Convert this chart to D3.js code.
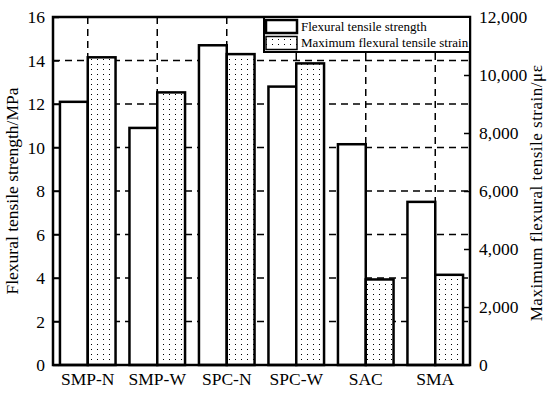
<!DOCTYPE html>
<html>
<head>
<meta charset="utf-8">
<script src="https://cdn.jsdelivr.net/npm/d3@7"></script>
<style>
    body { margin: 0; background: #fff; }
    svg text { font-family: "Liberation Serif", serif; fill: #000; }
</style>
</head>
<body>
<svg id="chart" width="550" height="396"></svg>
<script>
const categories = ['SMP-N', 'SMP-W', 'SPC-N', 'SPC-W', 'SAC', 'SMA'];
const strengthValues = [12.1, 10.9, 14.7, 12.8, 10.15, 7.5];
const strainValues = [10610, 9400, 10720, 10400, 2950, 3110];
const leftTicks = [0, 2, 4, 6, 8, 10, 12, 14, 16];
const rightTicks = [0, 2000, 4000, 6000, 8000, 10000, 12000];
const legendLabels = ['Flexural tensile strength', 'Maximum flexural tensile strain'];

const margin = { top: 17, right: 80, bottom: 31, left: 53 };
const width = 550 - margin.left - margin.right;
const height = 396 - margin.top - margin.bottom;

const svg = d3.select('#chart');

const defs = svg.append('defs');
const dots = defs.append('pattern')
    .attr('id', 'dots')
    .attr('patternUnits', 'userSpaceOnUse')
    .attr('width', 6)
    .attr('height', 5);
dots.append('rect').attr('width', 6).attr('height', 5).attr('fill', '#fff');
dots.append('rect').attr('x', 2).attr('y', 2).attr('width', 1).attr('height', 1).attr('fill', '#000');

const g = svg.append('g')
    .attr('transform', `translate(${margin.left},${margin.top})`);

const x = d3.scaleBand()
    .domain(categories)
    .range([0, width]);

const yLeft = d3.scaleLinear().domain([0, 16]).range([height, 0]);
const yRight = d3.scaleLinear().domain([0, 12000]).range([height, 0]);

const barWidth = x.bandwidth() * 0.4;

// dashed grid
g.append('g')
    .selectAll('line')
    .data(leftTicks.filter(d => d > 0 && d < 16))
    .enter()
    .append('line')
    .attr('x1', 0)
    .attr('x2', width)
    .attr('y1', d => yLeft(d))
    .attr('y2', d => yLeft(d))
    .attr('stroke', '#000')
    .attr('stroke-width', 1.5)
    .attr('stroke-dasharray', '7,5');

g.append('g')
    .selectAll('line')
    .data(categories)
    .enter()
    .append('line')
    .attr('x1', d => x(d) + x.bandwidth() / 2)
    .attr('x2', d => x(d) + x.bandwidth() / 2)
    .attr('y1', 0)
    .attr('y2', height)
    .attr('stroke', '#000')
    .attr('stroke-width', 1.5)
    .attr('stroke-dasharray', '7,5');

// bars
g.append('g')
    .selectAll('rect')
    .data(categories)
    .enter()
    .append('rect')
    .attr('x', d => x(d) + x.bandwidth() / 2 - barWidth)
    .attr('y', (d, i) => yLeft(strengthValues[i]))
    .attr('width', barWidth)
    .attr('height', (d, i) => height - yLeft(strengthValues[i]))
    .attr('fill', '#fff')
    .attr('stroke', '#000')
    .attr('stroke-width', 2.5);

g.append('g')
    .selectAll('rect')
    .data(categories)
    .enter()
    .append('rect')
    .attr('x', d => x(d) + x.bandwidth() / 2)
    .attr('y', (d, i) => yRight(strainValues[i]))
    .attr('width', barWidth)
    .attr('height', (d, i) => height - yRight(strainValues[i]))
    .attr('fill', 'url(#dots)')
    .attr('stroke', '#000')
    .attr('stroke-width', 2.5);

// axes
const leftAxis = g.append('g')
    .call(d3.axisLeft(yLeft).tickValues(leftTicks).tickSizeInner(-6).tickSizeOuter(0).tickPadding(8));

const rightAxis = g.append('g')
    .attr('transform', `translate(${width},0)`)
    .call(d3.axisRight(yRight).tickValues(rightTicks).tickFormat(d3.format(',')).tickSizeInner(-6).tickSizeOuter(0).tickPadding(9));

const bottomAxis = g.append('g')
    .attr('transform', `translate(0,${height})`)
    .call(d3.axisBottom(x).tickSize(0).tickPadding(8));

[leftAxis, rightAxis, bottomAxis].forEach(axis => {
    axis.select('.domain').remove();
    axis.selectAll('.tick line').attr('stroke', '#000').attr('stroke-width', 1.5);
    axis.selectAll('.tick text').attr('font-size', 17.5).attr('font-family', '"Liberation Serif", serif');
});

// frame
g.append('rect')
    .attr('width', width)
    .attr('height', height)
    .attr('fill', 'none')
    .attr('stroke', '#000')
    .attr('stroke-width', 2.5);

// legend
const legend = g.append('g')
    .attr('transform', `translate(${width - 206},0)`);

legend.append('rect')
    .attr('width', 206)
    .attr('height', 35)
    .attr('fill', '#fff')
    .attr('stroke', '#000')
    .attr('stroke-width', 2);

legendLabels.forEach((label, i) => {
    legend.append('rect')
        .attr('x', 2)
        .attr('y', 3 + i * 16.5)
        .attr('width', 31)
        .attr('height', 13)
        .attr('fill', i === 0 ? '#fff' : 'url(#dots)')
        .attr('stroke', '#000')
        .attr('stroke-width', i === 0 ? 2.5 : 1.5);

    legend.append('text')
        .attr('x', 37)
        .attr('y', 13.5 + i * 16.5)
        .attr('font-size', 13)
        .text(label);
});

// axis titles
svg.append('text')
    .attr('transform', `translate(17.5,${margin.top + height / 2}) rotate(-90)`)
    .attr('text-anchor', 'middle')
    .attr('font-size', 17.5)
    .text('Flexural tensile strength/MPa');

svg.append('text')
    .attr('transform', `translate(542,${margin.top + height / 2 + 2}) rotate(-90)`)
    .attr('text-anchor', 'middle')
    .attr('font-size', 17)
    .attr('letter-spacing', 0.5)
    .text('Maximum flexural tensile strain/με');
</script>
</body>
</html>
